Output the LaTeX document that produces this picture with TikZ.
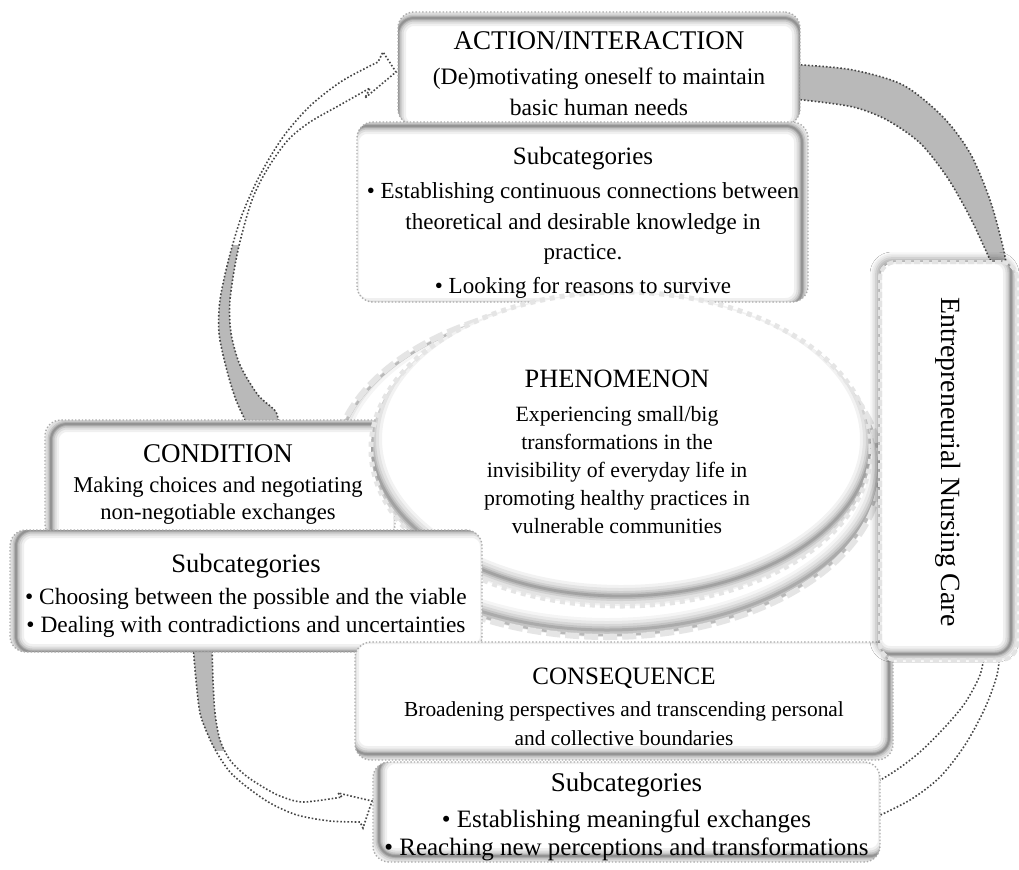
\documentclass[tikz,border=0pt]{standalone}
\usepackage{fontspec}
\setmainfont{Liberation Serif}
\usepackage{graphicx}
\usetikzlibrary{shadows.blur}
\newcommand\fs[2]{\fontsize{#1}{#2}\selectfont}
\tikzset{
  cbox/.style={rounded corners=8pt, draw=gray!65, densely dotted, line width=0.7pt,
    fill=white, inner sep=0pt},
  txt/.style={align=center, inner sep=0pt},
  ishadow/.style={path picture={
    \foreach \w/\o in {8/0.06,5.5/0.08,3.5/0.1,2/0.12,1/0.15}{
      \draw[solid, line width=\w pt, black, opacity=\o, rounded corners=8pt]
        ([shift={(#1)}]path picture bounding box.south west) rectangle
        ([shift={(#1)}]path picture bounding box.north east);}}},
  garrow/.style={draw=gray!55!black, densely dotted, line width=0.8pt},
  gfill/.style={fill=gray!55},
}
\begin{document}
\begin{tikzpicture}[x=0.5pt,y=-0.5pt]
\fill[white] (0,0) rectangle (1019,869);
\useasboundingbox (0,0) rectangle (1019,869);

% ---------- arrows ----------
\def\arrowA{plot[smooth] coordinates {(250,430) (236,400) (226,367) (219,333) (220,300) (229,258) (242,215) (260,175) (283,137) (310,106) (342,81) (378,62)}
  -- (383,52) -- (396,72) -- (365,98) --
  plot[smooth] coordinates {(370,88) (340,105) (310,122) (288,140) (268,168) (252,200) (238,250) (230,300) (231,333) (240,365) (258,395) (276,412) (279,430)} -- cycle}
\begin{scope}
  \clip (150,245) rectangle (320,440);
  \fill[gfill] \arrowA;
\end{scope}
\draw[garrow] \arrowA;

\def\arrowB{plot[smooth] coordinates {(790,65) (803,65) (853,70) (903,85) (943,117) (970,153) (990,200) (1003,247) (1008,275)}
  -- (992,275) --
  plot[smooth] coordinates {(991,262) (970,217) (947,177) (920,143) (887,120) (853,107) (803,100) (790,100)} -- cycle}
\fill[gfill] \arrowB;
\draw[garrow] \arrowB;

\draw[garrow] plot[smooth] coordinates {(985,650) (980,675) (965,703) (945,727) (920,752) (895,771) (870,786)};
\draw[garrow] plot[smooth] coordinates {(1000,650) (997,675) (985,708) (965,745) (940,777) (910,800) (870,820)};

\def\arrowD{plot[smooth] coordinates {(193,645) (196,680) (200,713) (208,735) (217,753) (230,772) (247,787) (270,803) (297,815) (330,821) (360,822)}
  -- (363,828) -- (372,801) -- (338,793) --
  plot[smooth] coordinates {(342,797) (303,802) (280,796) (263,787) (245,775) (230,760) (220,740) (215,713) (213,680) (212,645)} -- cycle}
\begin{scope}
  \clip (150,640) rectangle (300,750);
  \fill[gfill] \arrowD;
\end{scope}
\draw[garrow] \arrowD;

% ---------- outer ellipse ----------
\fill[white] (607,469) ellipse [x radius=274, y radius=168];
\begin{scope}
  \clip (607,469) ellipse [x radius=274, y radius=168];
  \foreach \w/\o in {12/0.04,9/0.05,6/0.07,3.5/0.09,1.5/0.12}
    \draw[line width=\w pt, black, opacity=\o] (607,462) ellipse [x radius=274, y radius=168];
\end{scope}
\draw[gray!55, line width=1.2pt] (607,469) ellipse [x radius=272, y radius=166];
\draw[gray!20, line width=3pt, dash pattern=on 7pt off 2.5pt] (607,469) ellipse [x radius=274, y radius=168];

% ---------- upper boxes ----------
\node[cbox, ishadow={0pt,-3pt}, minimum width=201pt, minimum height=56.5pt] (action) at (599,68.5) {};
\node[txt, font=\fs{11.8}{15.5}] (action-text) at (599,74)
  {{\fs{13.5}{16}ACTION/INTERACTION}\\[2pt]
   (De)motivating oneself to maintain\\ basic human needs};

\node[cbox, ishadow={-3pt,-2pt}, minimum width=225.5pt, minimum height=90pt] (actsub) at (582.5,212) {};

\node[cbox, ishadow={3pt,-2pt}, minimum width=175pt, minimum height=60pt] (condition) at (220,480) {};
\node[txt, font=\fs{11.3}{13.5}] (condition-text) at (218,484)
  {{\fs{13.5}{16}CONDITION}\\[1.5pt]
   Making choices and negotiating\\ non-negotiable exchanges};

% ---------- inner ellipse ----------
\fill[white] (621,449) ellipse [x radius=250, y radius=157];
\begin{scope}
  \clip (621,449) ellipse [x radius=250, y radius=157];
  \foreach \w/\o in {11/0.05,8/0.06,5/0.08,3/0.1,1.4/0.13}
    \draw[line width=\w pt, black, opacity=\o] (621,439) ellipse [x radius=250, y radius=157];
\end{scope}
\draw[gray!20, line width=2.5pt, dash pattern=on 2.5pt off 2.5pt] (621,449) ellipse [x radius=250, y radius=157];
\node[txt, font=\fs{10.9}{14}] (phenomenon) at (617,452)
  {{\fs{13.2}{16}PHENOMENON}\\[3pt]
   Experiencing small/big\\ transformations in the\\ invisibility of everyday life in\\
   promoting healthy practices in\\ vulnerable communities};

% text of the upper subcategory box, kept above the ellipse border
\node[txt, font=\fs{11.5}{15.3}] (actsub-text) at (583,223)
  {{\fs{12.5}{15}Subcategories}\\[1.5pt]
   \textbullet{} Establishing continuous connections between\\
   theoretical and desirable knowledge in\\ practice.\\[1.5pt]
   \textbullet{} Looking for reasons to survive};

% ---------- lower boxes ----------
\node[cbox, ishadow={3pt,0pt}, minimum width=236pt, minimum height=61pt] (condsub) at (246,591) {};
\node[txt, font=\fs{11.7}{14}] (condsub-text) at (246,596)
  {{\fs{13.3}{16}Subcategories}\\[2pt]
   \textbullet{} Choosing between the possible and the viable\\
   \textbullet{} Dealing with contradictions and uncertainties};

\node[cbox, ishadow={-2pt,3pt}, minimum width=269pt, minimum height=59pt] (consequence) at (624,701) {};
\node[txt, font=\fs{10.7}{14.5}] (consequence-text) at (624,707)
  {{\fs{12.5}{15}CONSEQUENCE}\\[1.5pt]
   Broadening perspectives and transcending personal\\ and collective boundaries};

\node[cbox, ishadow={3pt,3pt}, minimum width=253.5pt, minimum height=50pt] (conssub) at (626.5,812) {};
\node[txt, font=\fs{12.5}{14}] (conssub-text) at (626.5,817)
  {{\fs{13.5}{16}Subcategories}\\[4pt]
   \textbullet{} Establishing meaningful exchanges\\
   \textbullet{} Reaching new perceptions and transformations};

\node[cbox, ishadow={-3pt,3pt}, draw=gray!22, line width=2pt, dash pattern=on 3pt off 1.5pt,
  blur shadow={shadow xshift=-2pt, shadow yshift=2pt, shadow blur radius=3pt, shadow opacity=35},
  minimum width=68.5pt, minimum height=199pt] (enc) at (948.5,461) {};
\node[txt, font=\fs{13.9}{16}] (enc-text) at (948.5,462)
  {\rotatebox{-90}{Entrepreneurial Nursing Care}};
\end{tikzpicture}
\end{document}
